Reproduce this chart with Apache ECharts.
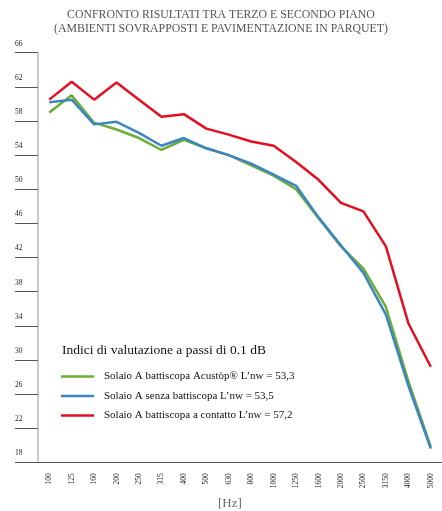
<!DOCTYPE html>
<html>
<head>
<meta charset="utf-8">
<script src="https://cdn.jsdelivr.net/npm/echarts@6/dist/echarts.min.js"></script>
<style>html,body{margin:0;padding:0;background:#fff}#c{width:442px;height:511px}</style>
</head>
<body>
<div id="c"></div>
<script>
var freqs = ['100','125','160','200','250','315','400','500','630','800','1000','1250','1600','2000','2500','3150','4000','5000'];
var acustop = [59.0, 61.0, 57.8, 57.0, 56.0, 54.6, 55.8, 54.8, 54.0, 52.8, 51.6, 50.0, 46.6, 43.3, 40.7, 36.2, 27.5, 19.8];
var senza = [60.2, 60.5, 57.6, 57.9, 56.6, 55.1, 56.0, 54.8, 54.0, 53.0, 51.7, 50.4, 46.7, 43.4, 40.2, 35.3, 27.0, 19.6];
var contatto = [60.5, 62.6, 60.5, 62.5, 60.5, 58.5, 58.8, 57.1, 56.4, 55.6, 55.1, 53.2, 51.1, 48.4, 47.4, 43.3, 34.3, 29.2];
var yTicks = [18, 22, 26, 30, 34, 38, 42, 46, 50, 54, 58, 62, 66];
var names = [
  "Solaio A battiscopa Acustòp\u00ae L\u2019nw = 53,3",
  "Solaio A senza battiscopa L\u2019nw = 53,5",
  "Solaio A battiscopa a contatto L\u2019nw = 57,2"
];

var serif = "'Liberation Serif', 'DejaVu Serif', serif";
var chart = echarts.init(document.getElementById('c'));
chart.setOption({
  backgroundColor: '#fff',
  animation: false,
  title: {
    text: 'CONFRONTO RISULTATI TRA TERZO E SECONDO PIANO\n(AMBIENTI SOVRAPPOSTI E PAVIMENTAZIONE IN PARQUET)',
    left: 'center', top: 3,
    textStyle: { fontFamily: serif, fontSize: 11.8, fontWeight: 'normal', color: '#555', lineHeight: 14, align: 'center' }
  },
  grid: { left: 38, right: -5, top: 52.7, bottom: 48.7, containLabel: false },
  legend: {
    orient: 'vertical', left: 56, top: 366,
    icon: 'rect',
    itemWidth: 33, itemHeight: 2.5, itemGap: 8.5,
    textStyle: { fontFamily: serif, fontSize: 11, color: '#111', padding: [0, 0, 0, 5] },
    data: names
  },
  graphic: [
    { type: 'text', left: 62, top: 343, style: { text: 'Indici di valutazione a passi di 0.1 dB', font: '13.5px ' + serif, fill: '#111' } },
    { type: 'text', left: 218, top: 497, style: { text: '[Hz]', font: '13px ' + serif, fill: '#666' } }
  ],
  xAxis: {
    type: 'category', data: freqs, boundaryGap: true,
    axisLine: { lineStyle: { color: '#555', width: 1 } },
    axisTick: { interval: 0, length: 16, lineStyle: { color: '#aaa' } },
    axisLabel: { interval: 0, rotate: 90, fontSize: 7.5, fontFamily: serif, color: '#222', margin: 11 }
  },
  yAxis: {
    type: 'value', min: 18, max: 66,
    splitLine: { show: false },
    axisLine: { show: true, lineStyle: { color: '#bbb', width: 1.5 } },
    axisTick: { show: true, customValues: yTicks, length: 23, lineStyle: { color: '#555' } },
    axisLabel: { customValues: yTicks, align: 'left', margin: 23, verticalAlign: 'bottom', padding: [0, 0, 5, 0], fontSize: 7.5, fontFamily: serif, color: '#222' }
  },
  series: [
    { name: names[0], type: 'line', data: acustop, symbol: 'none', lineStyle: { color: '#6aae35', width: 2.5 }, itemStyle: { color: '#6aae35' } },
    { name: names[1], type: 'line', data: senza, symbol: 'none', lineStyle: { color: '#3c84c4', width: 2.5 }, itemStyle: { color: '#3c84c4' } },
    { name: names[2], type: 'line', data: contatto, symbol: 'none', lineStyle: { color: '#e30f20', width: 2.5 }, itemStyle: { color: '#e30f20' } }
  ]
});
</script>
</body>
</html>
